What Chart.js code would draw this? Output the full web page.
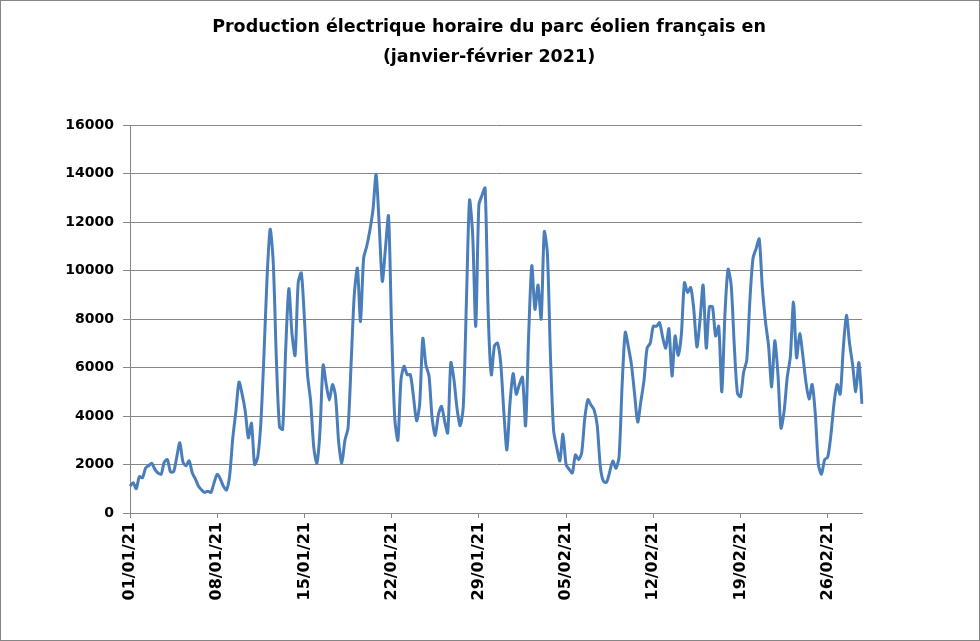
<!DOCTYPE html>
<html>
<head>
<meta charset="utf-8">
<script src="https://cdn.jsdelivr.net/npm/chart.js@4.4.1/dist/chart.umd.min.js"></script>
<style>
html,body{margin:0;padding:0;background:#ffffff;}
#wrap{width:980px;height:641px;position:relative;}
</style>
</head>
<body>
<div id="wrap"><canvas id="c"></canvas></div>
<script>
// ---- data (one value every 6 hours) ----
const titleLines = ['Production électrique horaire du parc éolien français en', '(janvier-février 2021)'];
const tickLabels = ['01/01/21','08/01/21','15/01/21','22/01/21','29/01/21','05/02/21','12/02/21','19/02/21','26/02/21'];
const stepsPerDay = 4;          // one value every 6 hours
const daysPerTick = 7;
const yMin = 0, yMax = 16000, yStep = 2000;
const production = [
  1100,1250,1000,1500,1450,1850,1950,2050,1800,1650,1600,2100,2200,1700,1700,2300,
  2900,2100,1950,2150,1650,1400,1100,950,850,900,850,1250,1600,1400,1100,950,
  1550,3100,4200,5400,4900,4200,3100,3700,2000,2300,3700,6500,9700,11700,10300,6300,
  3550,3450,6800,9250,7400,6500,9500,9900,8000,5700,4600,2700,2050,3400,6100,5300,
  4650,5300,4800,2900,2050,3000,3500,6200,9000,10100,7900,10500,11000,11650,12500,13950,
  11900,9550,10900,12250,7500,3900,3000,5500,6050,5700,5700,4800,3800,4500,7200,6100,
  5650,3900,3200,4050,4400,3800,3300,6200,5500,4300,3600,4400,8700,12900,11500,7700,
  12700,13100,13400,8200,5700,6900,7000,6200,4200,2600,4550,5750,4900,5300,5600,3600,
  7400,10200,8400,9400,8000,11600,10700,6400,3400,2700,2150,3250,2000,1800,1650,2400,
  2200,2480,3900,4680,4450,4250,3600,1900,1300,1270,1700,2140,1850,2300,5300,7450,
  6850,6100,4900,3750,4600,5450,6800,7000,7700,7700,7850,7250,6800,7600,5650,7300,
  6500,7350,9500,9100,9300,8400,6850,7950,9400,6800,8500,8500,7300,7700,5000,8200,
  10050,9400,6900,4950,4800,5800,6300,8750,10500,10900,11300,9300,7900,6900,5200,7100,
  5750,3500,4200,5600,6450,8700,6400,7400,6500,5400,4700,5300,4100,2000,1600,2200,
  2300,3200,4500,5300,4900,6800,8150,7000,6100,5000,6200,4500
];

// ---- category labels (one per 6-hour step) ----
const pad = n => String(n).padStart(2, '0');
const categories = production.map((v, i) => {
  const d = new Date(Date.UTC(2021, 0, 1) + i * (24 / stepsPerDay) * 3600 * 1000);
  return pad(d.getUTCDate()) + '/' + pad(d.getUTCMonth() + 1) + '/' + String(d.getUTCFullYear()).slice(2) + ' ' + pad(d.getUTCHours()) + 'h';
});
const stepsPerTick = stepsPerDay * daysPerTick;

const gridGray = '#868686';
const fontFam = '"DejaVu Sans", sans-serif';

const frameAndTitle = {
  id: 'frameAndTitle',
  afterDraw(chart) {
    const ctx = chart.ctx;
    ctx.save();
    ctx.strokeStyle = '#868686';
    ctx.lineWidth = 1;
    ctx.strokeRect(0.5, 0.5, chart.width - 1, chart.height - 1);
    ctx.fillStyle = '#000000';
    ctx.font = 'bold 17.5px ' + fontFam;
    ctx.textAlign = 'center';
    ctx.textBaseline = 'middle';
    ctx.fillText(titleLines[0], 489, 27);
    ctx.fillText(titleLines[1], 489, 57);
    ctx.restore();
  }
};

new Chart(document.getElementById('c'), {
  type: 'line',
  data: {
    labels: categories,
    datasets: [{
      data: production,
      borderColor: '#4a7ebb',
      borderWidth: 3,
      pointRadius: 0,
      tension: 0.25,
      fill: false
    }]
  },
  options: {
    responsive: true,
    maintainAspectRatio: false,
    animation: false,
    layout: { padding: { left: 0, right: 118, top: 125, bottom: 0 } },
    plugins: {
      legend: { display: false },
      tooltip: { enabled: false },
      title: { display: false }
    },
    scales: {
      x: {
        type: 'category',
        offset: false,
        afterFit: s => { s.height = 128; },
        grid: {
          display: true,
          drawOnChartArea: false,
          drawTicks: true,
          tickLength: 5,
          color: ctx => (ctx.index % stepsPerTick === 0 ? gridGray : 'rgba(0,0,0,0)')
        },
        border: { display: true, color: gridGray, width: 1 },
        ticks: {
          autoSkip: false,
          maxRotation: 90,
          minRotation: 90,
          padding: 4,
          color: '#000000',
          font: { family: fontFam, size: 16, weight: 'bold' },
          callback: (v, i) => (i % stepsPerTick === 0 ? tickLabels[i / stepsPerTick] : '')
        }
      },
      y: {
        min: yMin,
        max: yMax,
        afterFit: s => { s.width = 130; },
        grid: { color: gridGray, tickLength: 7, drawTicks: true },
        border: { display: true, color: gridGray, width: 1 },
        ticks: {
          stepSize: yStep,
          padding: 9,
          color: '#000000',
          font: { family: fontFam, size: 14, weight: 'bold' },
          callback: v => String(v)
        }
      }
    }
  },
  plugins: [frameAndTitle]
});
</script>
</body>
</html>
